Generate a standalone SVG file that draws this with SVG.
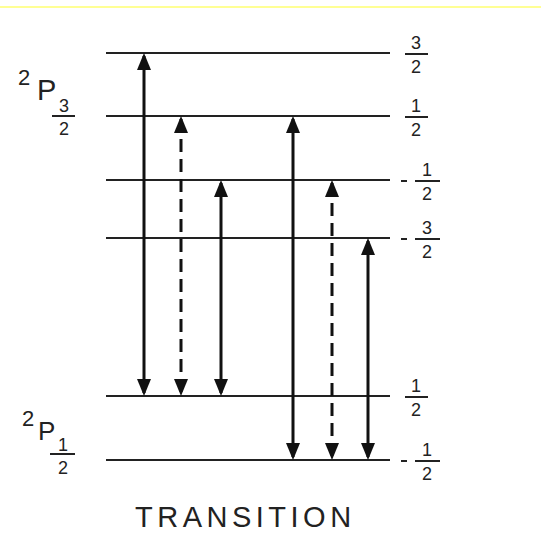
<svg xmlns="http://www.w3.org/2000/svg" width="541" height="545" viewBox="0 0 541 545">
<style>
.lvl{stroke:#222;stroke-width:2}
.arr{stroke:#111;stroke-width:3;fill:none}
.dash{stroke-dasharray:13 7}
.t{font-family:"Liberation Sans",Arial,sans-serif;fill:#222}
.fr{font-family:"Liberation Sans",Arial,sans-serif;fill:#222;font-size:18px;text-anchor:middle}
.bar{stroke:#222;stroke-width:2}
</style>
<defs>
<marker id="ah" viewBox="0 0 17 14" refX="14" refY="7" markerWidth="17" markerHeight="14" markerUnits="userSpaceOnUse" orient="auto-start-reverse">
<path d="M0,0 L17,7 L0,14 z" fill="#111"/>
</marker>
</defs>
<rect width="541" height="545" fill="#fff"/>
<line x1="0" y1="7" x2="541" y2="7" stroke="#ffff70" stroke-width="1.5"/>
<g id="levels">
<line class="lvl" x1="106" y1="53" x2="390" y2="53"/>
<line class="lvl" x1="106" y1="116" x2="390" y2="116"/>
<line class="lvl" x1="106" y1="180" x2="390" y2="180"/>
<line class="lvl" x1="106" y1="238" x2="390" y2="238"/>
<line class="lvl" x1="106" y1="396" x2="390" y2="396"/>
<line class="lvl" x1="106" y1="460" x2="390" y2="460"/>
</g>
<g id="connectors">
<line class="arr" x1="144" y1="56" x2="144" y2="393" marker-start="url(#ah)" marker-end="url(#ah)"/>
<line class="arr dash" x1="181" y1="119" x2="181" y2="393" marker-start="url(#ah)" marker-end="url(#ah)"/>
<line class="arr" x1="221" y1="183" x2="221" y2="393" marker-start="url(#ah)" marker-end="url(#ah)"/>
<line class="arr" x1="293" y1="119" x2="293" y2="457" marker-start="url(#ah)" marker-end="url(#ah)"/>
<line class="arr dash" x1="332" y1="183" x2="332" y2="457" marker-start="url(#ah)" marker-end="url(#ah)"/>
<line class="arr" x1="368" y1="241" x2="368" y2="457" marker-start="url(#ah)" marker-end="url(#ah)"/>
</g>
<g id="mj-labels">
<g id="m1"><text class="fr" x="416" y="49">3</text><line class="bar" x1="405" y1="54" x2="428" y2="54"/><text class="fr" x="416" y="73">2</text></g>
<g id="m2"><text class="fr" x="416" y="112">1</text><line class="bar" x1="405" y1="117" x2="428" y2="117"/><text class="fr" x="416" y="136">2</text></g>
<g id="m3"><line class="bar" x1="401" y1="181" x2="407" y2="181"/><text class="fr" x="427" y="176">1</text><line class="bar" x1="415" y1="181" x2="440" y2="181"/><text class="fr" x="427" y="200">2</text></g>
<g id="m4"><line class="bar" x1="401" y1="239" x2="407" y2="239"/><text class="fr" x="427" y="234">3</text><line class="bar" x1="415" y1="239" x2="440" y2="239"/><text class="fr" x="427" y="258">2</text></g>
<g id="m5"><text class="fr" x="416" y="392">1</text><line class="bar" x1="405" y1="397" x2="428" y2="397"/><text class="fr" x="416" y="416">2</text></g>
<g id="m6"><line class="bar" x1="401" y1="461" x2="407" y2="461"/><text class="fr" x="427" y="456">1</text><line class="bar" x1="415" y1="461" x2="440" y2="461"/><text class="fr" x="427" y="480">2</text></g>
</g>
<g id="term-p32">
<text class="t" x="18" y="85" font-size="22">2</text>
<text class="t" x="37" y="100" font-size="29">P</text>
<text class="fr" x="64" y="112">3</text><line class="bar" x1="52" y1="116" x2="75" y2="116"/><text class="fr" x="64" y="135">2</text>
</g>
<g id="term-p12">
<text class="t" x="22" y="426" font-size="22">2</text>
<text class="t" x="38" y="440" font-size="26">P</text>
<text class="fr" x="63" y="451">1</text><line class="bar" x1="50" y1="454" x2="75" y2="454"/><text class="fr" x="63" y="474">2</text>
</g>
<text id="title" class="t" x="135" y="527" font-size="29" letter-spacing="4.5">TRANSITION</text>
</svg>
